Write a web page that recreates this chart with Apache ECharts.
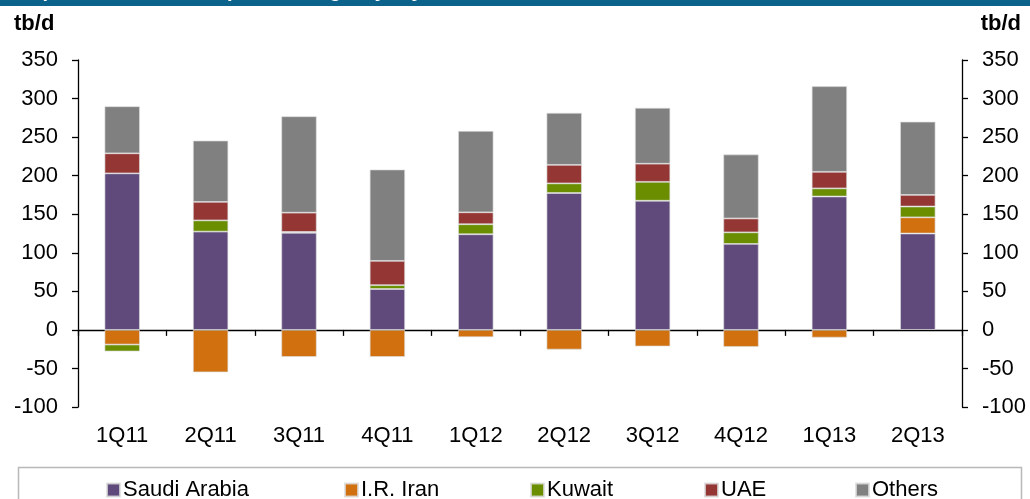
<!DOCTYPE html>
<html>
<head>
<meta charset="utf-8">
<script src="https://cdn.jsdelivr.net/npm/echarts@6/dist/echarts.min.js"></script>
<style>html,body{margin:0;padding:0;background:#fff}#c{width:1030px;height:499px}</style>
</head>
<body>
<div id="c"></div>
<script>
const categories = ['1Q11','2Q11','3Q11','4Q11','1Q12','2Q12','3Q12','4Q12','1Q13','2Q13'];
const saudiArabia = [203, 127.5, 126, 53, 124, 177.5, 167.5, 111.5, 173, 125];
const irIran      = [-19, -55, -35, -35, -9.5, -25.5, -21.5, -22, -10, 21];
const kuwait      = [-9, 14.5, 1, 5, 13, 12.5, 24.5, 15, 10.5, 14];
const uae         = [26, 24, 25, 31.5, 15.5, 24, 23.5, 18, 21.5, 15];
const others      = [61, 79.5, 125, 118.5, 105.5, 67.5, 72.5, 83, 111, 95];
const yTicks = { min: -100, max: 350, interval: 50 };
const unitLabel = 'tb/d';
const seriesNames = ['Saudi Arabia','I.R. Iran','Kuwait','UAE','Others'];
const colors = ['#5f4a7b','#d0700f','#6a8e00','#943634','#808080'];
const seriesData = [saudiArabia, irIran, kuwait, uae, others];

const FONT = "'Liberation Sans', Arial, sans-serif";
const chart = echarts.init(document.getElementById('c'), null, {renderer:'canvas'});
const legendLefts = [106, 344, 530, 704, 855];

const yAxisCommon = {
  type: 'value', min: yTicks.min, max: yTicks.max, interval: yTicks.interval,
  splitLine: {show:false},
  axisLine: {show:true, lineStyle:{color:'#000', width:1.3}},
  axisTick: {show:true, length:6, lineStyle:{color:'#000', width:1.3}},
  axisLabel: {color:'#000', fontSize:22, fontFamily:FONT, margin:20}
};

chart.setOption({
  animation: false,
  textStyle: {fontFamily: FONT},
  grid: {left:78, right:68, top:60, bottom:92, containLabel:false},
  xAxis: [
    {type:'category', data:categories, position:'bottom',
     axisLine:{show:true, onZero:true, lineStyle:{color:'#000', width:1.3}},
     axisTick:{show:true, length:6, alignWithLabel:false, lineStyle:{color:'#000', width:1.3}},
     axisLabel:{show:false}},
    {type:'category', data:categories, position:'bottom',
     axisLine:{show:false, onZero:false}, axisTick:{show:false},
     axisLabel:{show:true, color:'#000', fontSize:22, fontFamily:FONT, margin:18}}
  ],
  yAxis: [
    Object.assign({position:'left'}, yAxisCommon),
    Object.assign({position:'right'}, yAxisCommon)
  ],
  legend: seriesNames.map((n,i)=>({
    data:[n], left:legendLefts[i], top:479, itemWidth:13, itemHeight:13, itemGap:0,
    icon:'rect', padding:0,
    textStyle:{color:'#000', fontSize:22, fontFamily:FONT, padding:[0,0,0,-2]}
  })),
  series: seriesNames.map((n,i)=>({
    name:n, type:'bar', stack:'total', data:seriesData[i], barWidth:'40%',
    itemStyle:{color:colors[i], borderColor:'rgba(220,220,220,0.8)', borderWidth:0.8}
  })),
  graphic: [
    {type:'rect', shape:{x:0, y:0, width:1030, height:6}, style:{fill:'#0b638b'}, silent:true},
    {type:'text', left:8, top:-19, style:{text:'Graph 4.5: Crude oil exports changes, y-o-y', fill:'#fff', font:'bold 20px ' + FONT}},
    {type:'text', left:14, top:13, style:{text:unitLabel, fill:'#000', font:'bold 22px ' + FONT}},
    {type:'text', right:9, top:13, style:{text:unitLabel, fill:'#000', font:'bold 22px ' + FONT}},
    {type:'rect', shape:{x:18.5, y:467.5, width:1003, height:50}, style:{fill:'none', stroke:'#b8b8b8', lineWidth:1.5}, silent:true, z:-1}
  ]
});
</script>
</body>
</html>
